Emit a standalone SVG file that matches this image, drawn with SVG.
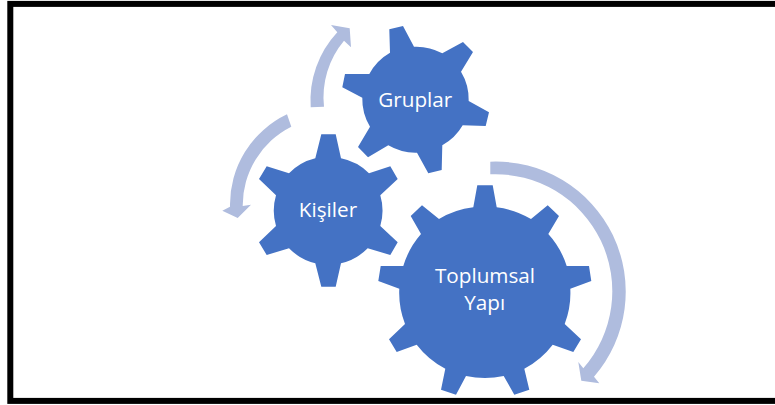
<svg xmlns="http://www.w3.org/2000/svg" width="775" height="405" viewBox="0 0 775 405">
<style>
.gear{fill:#4472c4}
.arrow{fill:#afbcde}
.t{font-family:"Open Sans","Noto Sans",sans-serif;fill:#fff;text-anchor:middle;font-size:20.7px}
</style>
<rect width="775" height="405" fill="#fff"/>
<rect x="10.300" y="3.900" width="800" height="397" fill="none" stroke="#000" stroke-width="6"/>
<g id="connectors">
<path class="arrow" d="M490.300 161.700A130 130 0 0 1 594 376.700L599.300 383.300L581.300 380.700L578.300 362L583.300 368.300A117 117 0 0 0 490.300 174.300Z"/>
<path class="arrow" d="M287 114.300A100 100 0 0 0 230 206.700L222.300 210.700L237.700 218L251 204.700L242.700 206A88 88 0 0 1 291.300 126.700Z"/>
<path class="arrow" d="M310.700 107.300A100 100 0 0 1 337.300 32.300L331 25L349.700 28.300L351 47.300L344 40.700A88 88 0 0 0 324 106.700Z"/>
</g>
<g id="gruplar">
<path class="gear" d="M390 52.700L389.300 29.300L403 26L414 46.700A53.500 53.500 0 0 1 442.300 53.300L463 42L473 52L461 71.700A53.500 53.500 0 0 1 468.700 101L489 112.300L485.700 126L462.700 125.300A53.500 53.500 0 0 1 442.300 145.300L441.700 170L428.300 173.300L417 152.700A53.500 53.500 0 0 1 388.300 145.300L368 157.300L358 147L370 126.700A53.500 53.500 0 0 1 362.300 97.700L342.300 87.300L345 74L369.300 74A53.500 53.500 0 0 1 390 52.700Z"/>
<text class="t" x="415.300" y="106.700">Gruplar</text>
</g>
<g id="kisiler">
<path class="gear" d="M315.300 158.300L321.300 134.300L335.700 134.300L341 158.300A54.500 54.500 0 0 1 369 173.300L390.300 166.300L397.700 179L380.300 195.300A54.500 54.500 0 0 1 380.300 226L397.700 242.300L390.300 255L367.700 248.300A54.500 54.500 0 0 1 341 263.300L335.700 286.700L321.300 286.700L315.300 263.300A54.500 54.500 0 0 1 289 248.300L266.700 255L259 242.300L276 226A54.500 54.500 0 0 1 276 195.300L259 179L266.700 166.300L289 173.300A54.500 54.500 0 0 1 315.300 158.300Z"/>
<text class="t" x="328" y="217">Kişiler</text>
</g>
<g id="toplumsal">
<path class="gear" d="M473.300 207.300L477.300 185.300L492.700 185.300L496.700 207.300A86 86 0 0 1 531 219L547.700 205.300L559 216L548.300 234A86 86 0 0 1 566.700 266L589 266L591.300 281L570.300 288.700A86 86 0 0 1 564.700 324L581 339.300L573.300 352L552.700 344.700A86 86 0 0 1 524.300 368.700L529.300 389.700L514.300 394.700L503.700 376A86 86 0 0 1 466 376L456 394.700L441 389.700L445.300 368.700A86 86 0 0 1 416.700 344.700L396.700 352L389 339.300L405 324A86 86 0 0 1 399.300 288.700L378.300 281L380.700 266L403.300 266A86 86 0 0 1 421 234L410.700 216L422 205.300L439 219A86 86 0 0 1 473.300 207.300Z"/>
<text class="t" x="485" y="283.300">Toplumsal</text>
<text class="t" x="484.700" y="310">Yapı</text>
</g>
</svg>
